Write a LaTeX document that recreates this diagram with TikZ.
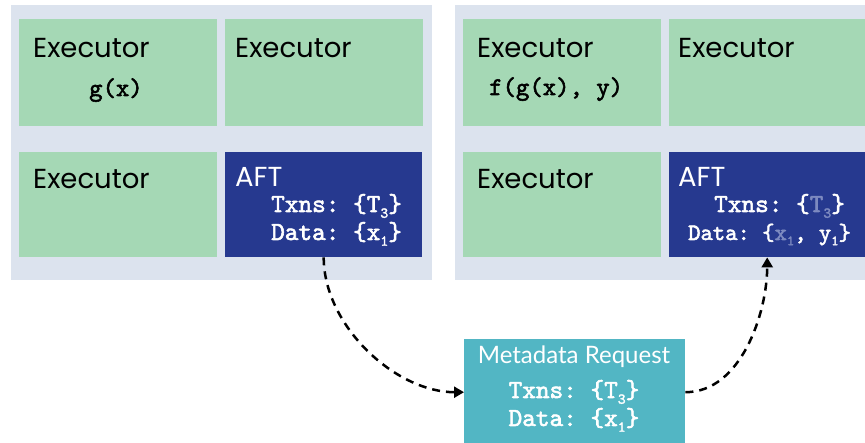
\documentclass[tikz,border=0pt]{standalone}
\usepackage{fontspec}
\setmainfont{Poppins}
\newfontfamily\metafont{Lato}
\setmonofont{lmmono10-regular}[Extension=.otf, AutoFakeBold=2.2]
\usetikzlibrary{arrows.meta}
\definecolor{panelgray}{RGB}{220,227,238}
\definecolor{exgreen}{RGB}{165,216,181}
\definecolor{aftblue}{RGB}{38,57,143}
\definecolor{metateal}{RGB}{82,182,196}
\definecolor{fadetext}{RGB}{125,138,192}
\newcommand\subd[1]{\raisebox{-0.22em}{\fontsize{15}{15}\selectfont #1}}
\newcommand\subs[1]{\raisebox{-0.22em}{\fontsize{14}{14}\selectfont #1}}
\begin{document}
\begin{tikzpicture}[x=1pt,y=-1pt,
  panel/.style={fill=panelgray, draw=none, anchor=north west, inner sep=0, minimum height=275},
  exbox/.style={fill=exgreen, draw=none, anchor=north west, inner sep=0, minimum width=198, minimum height=107},
  aftbox/.style={fill=aftblue, draw=none, anchor=north west, inner sep=0, minimum width=197, minimum height=105},
  metabox/.style={fill=metateal, draw=none, anchor=north west, inner sep=0, minimum width=221, minimum height=106},
  lbl/.style={anchor=base west, inner sep=0, font=\fontsize{27.5}{30}\selectfont},
  wlbl/.style={lbl, text=white},
  code/.style={anchor=base west, inner sep=0, font=\fontsize{25.5}{27}\selectfont\ttfamily\bfseries},
  acode/.style={anchor=base west, inner sep=0, text=white, font=\fontsize{26}{28}\selectfont\ttfamily\bfseries},
  scode/.style={anchor=base west, inner sep=0, text=white, font=\fontsize{23.5}{25}\selectfont\ttfamily\bfseries},
  flow/.style={line width=2.5pt, dash pattern=on 8pt off 6pt, -{Triangle[length=10pt,width=11pt]}}]
\useasboundingbox (0,0) rectangle (865,443);
\clip (0,0) rectangle (865,443);

% panels
\node[panel, minimum width=421] (pl) at (11,5) {};
\node[panel, minimum width=430] (pr) at (455,5) {};

% left panel
\node[exbox] (l1) at (19,19) {};
\node[exbox] (l2) at (225,19) {};
\node[exbox, minimum height=105] (l3) at (19,152) {};
\node[aftbox] (aftL) at (225,152) {};
\node[lbl] (l1t) at (33,58) {Executor};
\node[code] (l1c) at (89,96) {g(x)};
\node[lbl] (l2t) at (235,58) {Executor};
\node[lbl] (l3t) at (33,189) {Executor};
\node[wlbl] (aftLt) at (235,187) {AFT};
\node[acode] (aftLa) at (271,212) {Txns: \{T\subd{3}\}};
\node[acode] (aftLb) at (271,240) {Data: \{x\subd{1}\}};

% right panel
\node[exbox] (r1) at (463,19) {};
\node[exbox, minimum width=210] (r2) at (669,19) {};
\node[exbox, minimum height=105] (r3) at (463,152) {};
\node[aftbox, minimum width=196] (aftR) at (669,152) {};
\node[lbl] (r1t) at (477,58) {Executor};
\node[code] (r1c) at (489,95) {f(g(x), y)};
\node[lbl] (r2t) at (678,58) {Executor};
\node[lbl] (r3t) at (477,189) {Executor};
\node[wlbl] (aftRt) at (678,187) {AFT};
\node[acode] (aftRa) at (714,212) {Txns: \{\textcolor{fadetext}{T\subd{3}}\}};
\node[scode] (aftRb) at (688,240) {Data: \{\textcolor{fadetext}{x\subs{1}}, y\subs{1}\}};

% metadata request
\node[metabox] (meta) at (464,339) {};
\node[anchor=base, inner sep=0, text=white, font=\metafont\fontsize{24}{26}\selectfont] (metat) at (574,364) {Metadata Request};
\node[acode, anchor=base] (metaa) at (574,398) {Txns: \{T\subd{3}\}};
\node[acode, anchor=base] (metab) at (574,426) {Data: \{x\subd{1}\}};

% connectors
\draw[flow] (aftL.south) to[out=-90, in=180, looseness=0.9] (meta.west);
\draw[flow] (meta.east) to[out=0, in=-90, looseness=0.9] (aftR.south);
\end{tikzpicture}
\end{document}
